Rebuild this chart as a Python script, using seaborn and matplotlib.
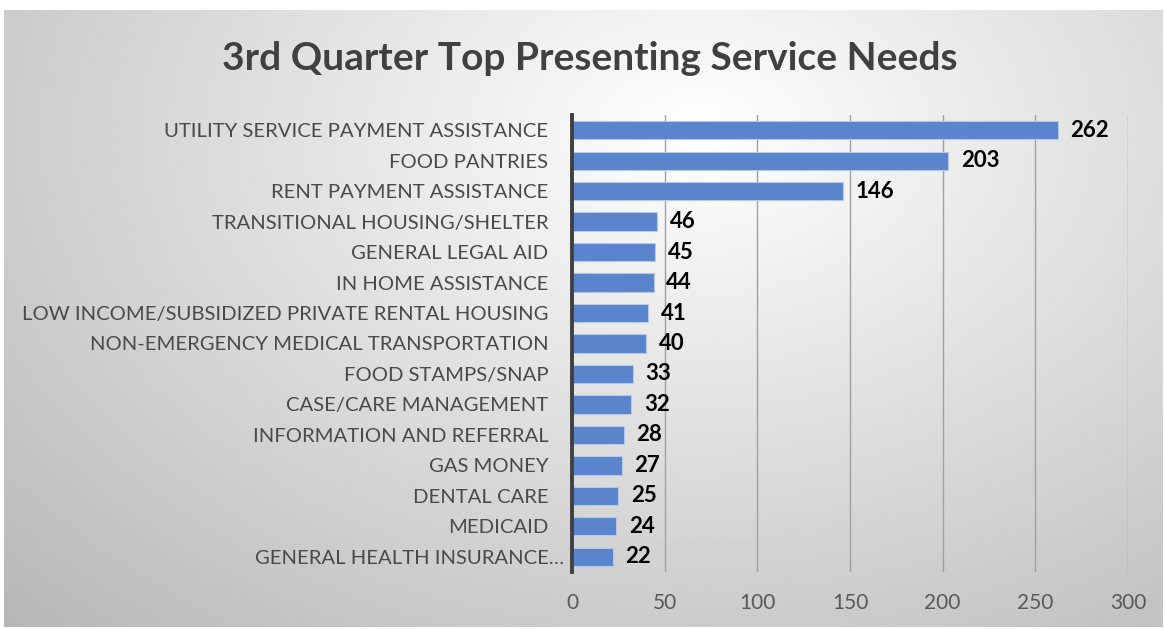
import matplotlib

matplotlib.use("Agg")

import matplotlib.pyplot as plt
import matplotlib.transforms as mtransforms
import seaborn as sns
import numpy as np
import pandas as pd

# -----------------------------
# Data
# -----------------------------
needs = [
    "UTILITY SERVICE PAYMENT ASSISTANCE",
    "FOOD PANTRIES",
    "RENT PAYMENT ASSISTANCE",
    "TRANSITIONAL HOUSING/SHELTER",
    "GENERAL LEGAL AID",
    "IN HOME ASSISTANCE",
    "LOW INCOME/SUBSIDIZED PRIVATE RENTAL HOUSING",
    "NON-EMERGENCY MEDICAL TRANSPORTATION",
    "FOOD STAMPS/SNAP",
    "CASE/CARE MANAGEMENT",
    "INFORMATION AND REFERRAL",
    "GAS MONEY",
    "DENTAL CARE",
    "MEDICAID",
    "GENERAL HEALTH INSURANCE\u2026",
]
counts = [262, 203, 146, 46, 45, 44, 41, 40, 33, 32, 28, 27, 25, 24, 22]
x_ticks = [0, 50, 100, 150, 200, 250, 300]

df = pd.DataFrame({"need": needs, "count": counts})

# -----------------------------
# Style
# -----------------------------
sns.set_theme(style="white")
plt.rcParams["font.family"] = ["Lato", "DejaVu Sans"]

fig = plt.figure(figsize=(11.65, 6.29), dpi=100)
fig.patch.set_facecolor("white")

# background panel with soft radial gradient
bg = fig.add_axes([4 / 1165, 2 / 629, 1159 / 1165, 617 / 629], zorder=0)
gx, gy = np.meshgrid(np.linspace(0, 1, 400), np.linspace(0, 1, 220))
r = np.sqrt(((gx - 0.6) / 1.0) ** 2 + ((gy - 0.2) / 1.3) ** 2)
shade = np.clip(1.0 - 0.33 * r, 0, 1)
bg.imshow(shade, cmap="gray", vmin=0, vmax=1, aspect="auto",
          extent=[0, 1, 0, 1], origin="upper", interpolation="bilinear")
bg.set_axis_off()

# -----------------------------
# Bar chart
# -----------------------------
ax = fig.add_axes([572 / 1165, 1 - 572 / 629, 556 / 1165, 457 / 629], zorder=1)
ax.patch.set_alpha(0)

sns.barplot(
    data=df,
    x="count",
    y="need",
    orient="h",
    color="#5a84cc",
    saturation=1,
    width=0.6,
    edgecolor="#b4c8ec",
    linewidth=0.8,
    ax=ax,
)

labels = ax.bar_label(ax.containers[0], padding=9, fontsize=16,
                      fontweight="bold", color="black")
for t in labels:
    t.set_transform(t.get_transform() +
                    mtransforms.ScaledTranslation(0, -2 / 100, fig.dpi_scale_trans))

ax.set_xlim(0, 300)
ax.set_ylim(14.5, -0.5)
ax.set_xticks(x_ticks)
ax.set_xlabel("")
ax.set_ylabel("")

ax.grid(axis="x", color="#a0a0a0", linewidth=1)
ax.set_axisbelow(True)

ax.tick_params(axis="x", length=0, pad=15, labelsize=15, labelcolor="#595959")
ax.tick_params(axis="y", length=0, pad=17, labelsize=14.6, labelcolor="#4a4a4a")

# truncated label sits closer to the axis
last = ax.get_yticklabels()[-1]
last.set_transform(last.get_transform() +
                   mtransforms.ScaledTranslation(16 / 100, 0, fig.dpi_scale_trans))

for side in ["top", "right", "bottom"]:
    ax.spines[side].set_visible(False)
ax.spines["left"].set_color("#404040")
ax.spines["left"].set_linewidth(2.8)
ax.spines["left"].set_zorder(5)

fig.text(590 / 1165, 1 - 58 / 629, "3rd Quarter Top Presenting Service Needs",
         ha="center", va="center", fontsize=28, fontweight="bold",
         color="#404040")

plt.savefig("out.png", dpi=100)
plt.close()
